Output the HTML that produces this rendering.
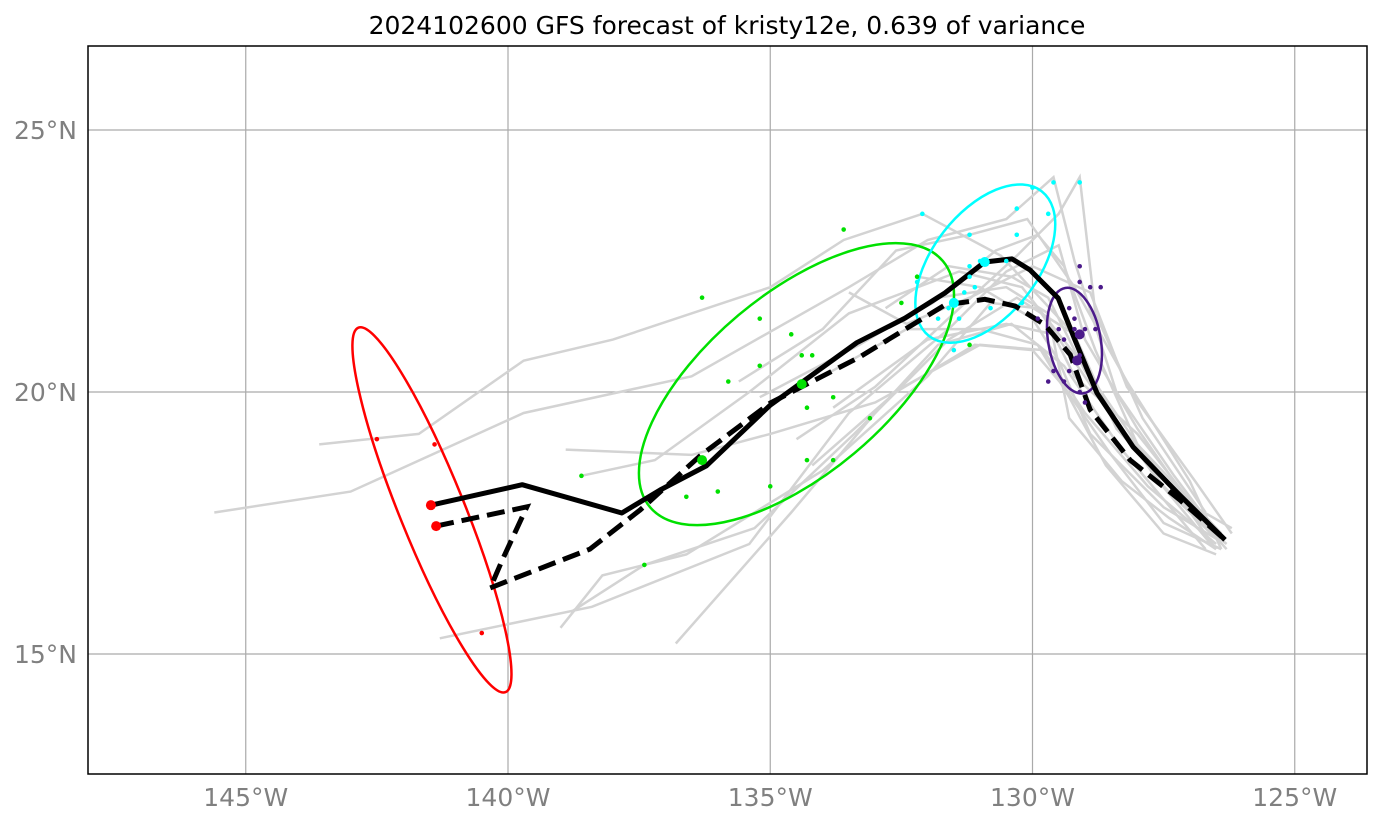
<!DOCTYPE html>
<html><head><meta charset="utf-8"><style>
body{margin:0;background:#fff;}
svg{display:block;font-family:"DejaVu Sans","Liberation Sans",sans-serif;}
</style></head><body>
<svg id="chart" width="1382" height="824" viewBox="0 0 1382 824" xmlns="http://www.w3.org/2000/svg">
<text x="727" y="34" text-anchor="middle" font-size="25" fill="#000">2024102600 GFS forecast of kristy12e, 0.639 of variance</text>
<g id="grid"></g><g id="tracks"></g><g id="ells"></g><g id="main"></g><g id="dots"></g><g id="ticks"></g>
<rect x="88" y="46" width="1279" height="728" fill="none" stroke="#000" stroke-width="1.5"/>
</svg>
<script>
const lonTicks=[-145,-140,-135,-130,-125];
const latTicks=[15,20,25];
const lonLabels=["145°W","140°W","135°W","130°W","125°W"];
const latLabels=["15°N","20°N","25°N"];
const bestSolid=[[-141.47,17.84],[-139.73,18.23],[-137.83,17.69],[-137.1,18.13],[-136.22,18.59],[-135,19.75],[-133.35,20.94],[-132.43,21.41],[-131.67,21.89],[-130.91,22.48],[-130.39,22.54],[-130.05,22.33],[-129.51,21.79],[-129.19,20.99],[-128.77,19.98],[-128.08,18.95],[-127.19,18.03],[-126.33,17.18]];
const bestDashed=[[-141.37,17.44],[-139.64,17.81],[-140.11,16.79],[-140.34,16.26],[-139.96,16.41],[-138.44,17.0],[-137.48,17.75],[-136.34,18.78],[-135,19.79],[-133.29,20.67],[-131.67,21.66],[-130.91,21.77],[-130.33,21.64],[-129.76,21.28],[-129.28,20.71],[-128.9,19.66],[-128.14,18.7],[-127.19,17.94],[-126.33,17.18]];
const members=[
[[-145.6,17.7],[-143,18.1],[-139.7,19.6],[-136.5,20.3],[-133.5,22.0],[-132,22.9],[-130.5,23.3],[-129.6,24.1],[-129.2,22.5],[-128.4,20.0],[-127.3,18.4],[-126.4,17.2]],
[[-143.6,19.0],[-141.7,19.2],[-139.7,20.6],[-138,21.0],[-135,22.0],[-133.6,22.9],[-132.1,23.4],[-130.6,22.6],[-129.3,21.2],[-128.5,19.6],[-127.5,18.2],[-126.5,17.2]],
[[-141.3,15.3],[-138.4,15.9],[-135.4,17.1],[-133.5,19.6],[-131.6,21.2],[-130.5,22.3],[-129.5,22.8],[-129,21.0],[-128,19.3],[-126.6,17.3]],
[[-139,15.5],[-138.2,16.5],[-136.6,16.9],[-134,18.5],[-132,20.3],[-130.8,21.7],[-129.9,21.6],[-128.8,20.0],[-127.6,18.3],[-126.6,17.1]],
[[-138.8,15.8],[-137.4,16.7],[-135.3,17.4],[-133.4,19.2],[-131.6,21.0],[-130.3,21.8],[-129.2,21.1],[-128.4,19.3],[-127.2,18.0],[-126.5,17.0]],
[[-136.8,15.2],[-134.6,17.7],[-133,19.6],[-131.8,20.9],[-130.4,21.3],[-129.4,20.5],[-128.3,18.9],[-126.7,17.0]],
[[-138.9,18.9],[-136.5,18.8],[-135,19.2],[-133,19.8],[-131,20.9],[-129.8,20.8],[-129.0,19.6],[-127.8,18.2],[-126.5,17.1]],
[[-138.6,18.4],[-137.2,18.7],[-135.4,20.0],[-133.5,21.5],[-131.4,22.3],[-130.2,22.0],[-129.1,20.6],[-128,19.0],[-126.4,17.3]],
[[-135.6,20.2],[-134,21.2],[-132.6,22.7],[-131.2,23.0],[-130.1,23.3],[-129.2,22.0],[-128.2,20.2],[-127,18.3],[-126.4,17.0]],
[[-133.5,21.9],[-132.4,21.3],[-131.2,21.8],[-130,22.4],[-128.9,21.9],[-128.2,20.1],[-126.9,18.3],[-126.2,17.3]],
[[-134.5,19.1],[-133,20.1],[-131.5,21.5],[-130.3,22.6],[-129.5,23.4],[-129.1,24.1],[-128.8,21.5],[-127.9,19.5],[-126.7,17.7]],
[[-135.2,19.9],[-133.3,20.9],[-131.8,21.8],[-130.5,22.0],[-129.7,21.5],[-129.3,19.5],[-128.3,18.3],[-127.4,17.6],[-126.5,17.0]],
[[-134.2,18.6],[-132.6,20.0],[-131.1,20.9],[-130.0,20.8],[-129.4,20.1],[-128.5,18.8],[-127.5,17.5],[-126.4,17.0]],
[[-133.8,19.7],[-132,21.0],[-130.5,21.3],[-129.6,21.1],[-129.2,20.3],[-128.0,19.2],[-126.9,17.8],[-126.2,17.4]],
[[-132.2,22.2],[-131,22.0],[-130.0,21.4],[-129.5,20.6],[-128.9,19.2],[-127.5,17.8],[-126.5,17.2]],
[[-133.2,21.0],[-131.9,21.7],[-130.7,22.7],[-129.9,23.0],[-129.4,22.4],[-128.8,20.8],[-128.0,19.0],[-126.9,17.6],[-126.3,17.1]],
[[-134.0,20.3],[-132.4,21.2],[-131.0,21.2],[-129.9,20.9],[-129.3,19.9],[-128.6,18.6],[-127.5,17.3],[-126.5,16.9]],
[[-132.8,21.6],[-131.6,22.4],[-130.4,22.2],[-129.7,21.8],[-129.0,20.4],[-128.3,19.3],[-127.1,17.9],[-126.3,17.0]]
];
const redDots=[[-142.5,19.1],[-141.4,19.0],[-140.5,15.4]];
const greenDots=[[-136.3,21.8],[-135.2,21.4],[-134.6,21.1],[-133.6,23.1],[-135.8,20.2],[-135.2,20.5],[-134.4,20.7],[-134.2,20.7],[-134.3,19.7],[-133.8,19.9],[-133.1,19.5],[-134.3,18.7],[-133.8,18.7],[-135.0,18.2],[-136.0,18.1],[-136.6,18.0],[-138.6,18.4],[-137.4,16.7],[-132.5,21.7],[-131.2,20.9],[-132.2,22.2]];
const cyanDots=[[-132.1,23.4],[-131.2,23.0],[-130.3,23.5],[-129.7,23.4],[-129.6,24.0],[-129.1,24.0],[-130.0,23.9],[-131.2,22.4],[-130.3,23.0],[-131.2,22.2],[-131.1,22.0],[-131.3,21.9],[-131.4,21.4],[-130.8,21.6],[-130.2,21.7],[-132.2,22.1],[-131.6,21.6],[-131.5,20.8],[-131.8,21.4],[-131.0,22.5],[-130.5,22.5]];
const purpleDots=[[-129.1,22.4],[-129.1,22.1],[-128.9,22.0],[-128.7,22.0],[-129.3,21.6],[-129.5,21.2],[-129.2,21.2],[-129.0,21.2],[-128.8,21.2],[-129.4,21.0],[-129.1,20.7],[-129.6,20.4],[-129.3,20.4],[-129.4,20.2],[-129.7,20.2],[-129.1,20.0],[-129.0,19.8],[-129.9,21.4],[-129.2,21.4]];
const bigDots=[[-141.47,17.84,"#ff0000"],[-141.37,17.44,"#ff0000"],[-134.4,20.15,"#00e000"],[-136.3,18.7,"#00e000"],[-130.91,22.48,"#00ffff"],[-131.5,21.7,"#00ffff"],[-129.1,21.1,"#4b1a8a"],[-129.15,20.6,"#4b1a8a"]];
const ellipses=[[-141.45,17.75,3.75,0.62,68,"#ff0000","red-ellipse"],[-134.5,20.15,3.65,1.72,-40,"#00e000","green-ellipse"],[-130.9,22.45,1.75,1.0,-52,"#00ffff","cyan-ellipse"],[-129.2,20.98,1.02,0.5,80,"#4b1a8a","purple-ellipse"]];

const X=lon=>508+(lon+140)*52.45;
const Y=lat=>392-(lat-20)*52.4;
const NS="http://www.w3.org/2000/svg";
function mk(tag,parent,attrs){const e=document.createElementNS(NS,tag);for(const k in attrs)e.setAttribute(k,attrs[k]);document.getElementById(parent).appendChild(e);return e;}
const pts=a=>a.map(p=>X(p[0]).toFixed(1)+","+Y(p[1]).toFixed(1)).join(" ");

lonTicks.forEach((v,i)=>{
  const l=mk("line","grid",{x1:X(v),x2:X(v),y1:46,y2:774,stroke:"#aaa","stroke-width":1.2});
  
  
  const t=mk("text","ticks",{x:X(v),y:806,"text-anchor":"middle","font-size":25,fill:"#808080"});
  t.textContent=lonLabels[i];
  
  
});
latTicks.forEach((v,i)=>{
  const l=mk("line","grid",{x1:88,x2:1367,y1:Y(v),y2:Y(v),stroke:"#aaa","stroke-width":1.2});
  
  
  const t=mk("text","ticks",{x:77,y:Y(v)+9,"text-anchor":"end","font-size":25,fill:"#808080"});
  t.textContent=latLabels[i];
  
  
});
members.forEach(m=>{
  const p=mk("polyline","tracks",{points:pts(m),fill:"none",stroke:"#d3d3d3","stroke-width":2.5});
  
  
});
ellipses.forEach(e=>{
  const cx=X(e[0]),cy=Y(e[1]);
  const el=mk("ellipse","ells",{cx:cx,cy:cy,rx:e[2]*52.4,ry:e[3]*52.4,transform:`rotate(${e[4]} ${cx} ${cy})`,fill:"none",stroke:e[5],"stroke-width":2.5});
  
  
});
const s=mk("polyline","main",{points:pts(bestSolid),fill:"none",stroke:"#000","stroke-width":5,"stroke-linejoin":"round"});


const d=mk("polyline","main",{points:pts(bestDashed),fill:"none",stroke:"#000","stroke-width":5,"stroke-dasharray":"18,8"});


[[redDots,"#ff0000","red-dot"],[greenDots,"#00e000","green-dot"],[cyanDots,"#00ffff","cyan-dot"],[purpleDots,"#4b1a8a","purple-dot"]].forEach(g=>{
  g[0].forEach(p=>{
    const c=mk("circle","dots",{cx:X(p[0]),cy:Y(p[1]),r:2.3,fill:g[1]});
    
    
  });
});
bigDots.forEach(p=>{
  const c=mk("circle","dots",{cx:X(p[0]),cy:Y(p[1]),r:5,fill:p[2]});
  
  
});
</script>
</body></html>
